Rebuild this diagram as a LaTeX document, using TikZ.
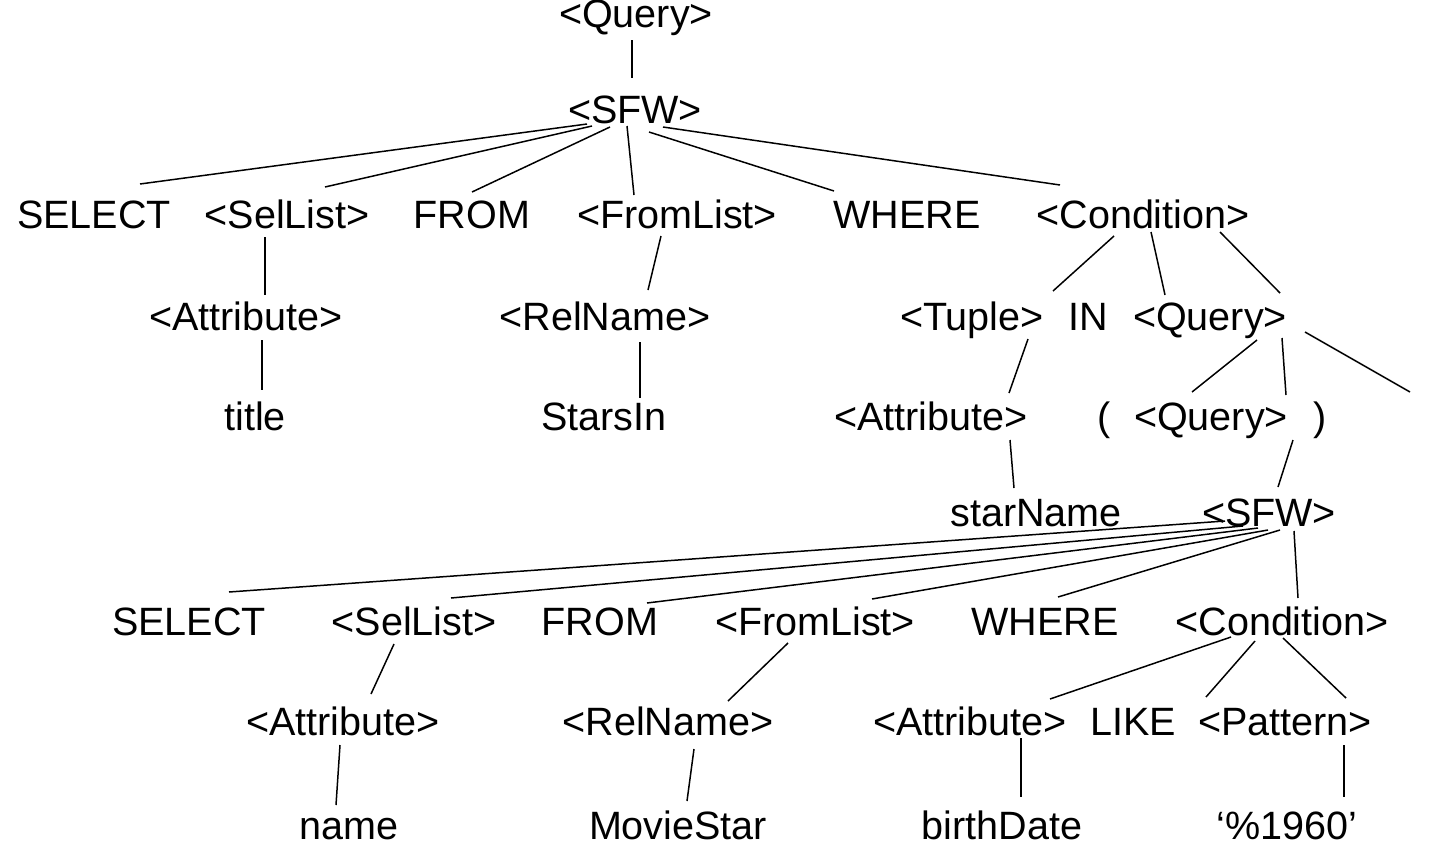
\documentclass[tikz,border=0pt]{standalone}
\usepackage{fontspec}
\setmainfont{Liberation Sans}
\usetikzlibrary{calc}

\begin{document}
\begin{tikzpicture}
  [x=0.02cm, y=-0.02cm,
   lbl/.style={anchor=base, inner sep=0pt, font=\fontsize{22.5}{27}\selectfont},
   edge/.style={line width=0.85pt}]
  \useasboundingbox (0,0) rectangle (1436,856);

  \node[lbl] (q0)     at (636,27)   {<Query>};
  \node[lbl] (sfw)    at (635,123)  {<SFW>};

  \node[lbl] (sel)    at (94,228)   {SELECT};
  \node[lbl] (sell)   at (287,228)  {<SelList>};
  \node[lbl] (from)   at (472,228)  {FROM};
  \node[lbl] (froml)  at (677,228)  {<FromList>};
  \node[lbl] (where)  at (907,228)  {WHERE};
  \node[lbl] (cond)   at (1143,228) {<Condition>};

  \node[lbl] (attr)   at (246,330)  {<Attribute>};
  \node[lbl] (reln)   at (605,330)  {<RelName>};
  \node[lbl] (tuple)  at (972,330)  {<Tuple>};
  \node[lbl] (in)     at (1088,330) {IN};
  \node[lbl] (qry)    at (1210,330) {<Query>};

  \node[lbl] (title)  at (255,430)  {title};
  \node[lbl] (stars)  at (604,430)  {StarsIn};
  \node[lbl] (attrb)  at (931,430)  {<Attribute>};
  \node[lbl] (lpar)   at (1104,430) {(};
  \node[lbl] (qryb)   at (1211,430) {<Query>};
  \node[lbl] (rpar)   at (1320,430) {)};

  \node[lbl] (starn)  at (1036,526) {starName};
  \node[lbl] (sfwb)   at (1269,526) {<SFW>};

  \node[lbl] (selb)   at (189,635)  {SELECT};
  \node[lbl] (sellb)  at (414,635)  {<SelList>};
  \node[lbl] (fromb)  at (600,635)  {FROM};
  \node[lbl] (fromlb) at (815,635)  {<FromList>};
  \node[lbl] (whereb) at (1045,635) {WHERE};
  \node[lbl] (condb)  at (1282,635) {<Condition>};

  \node[lbl] (attrc)  at (343,735)  {<Attribute>};
  \node[lbl] (relnb)  at (668,735)  {<RelName>};
  \node[lbl] (attrd)  at (970,735)  {<Attribute>};
  \node[lbl] (like)   at (1133,735) {LIKE};
  \node[lbl] (pat)    at (1285,735) {<Pattern>};

  \node[lbl] (name)   at (349,839)  {name};
  \node[lbl] (movie)  at (678,839)  {MovieStar};
  \node[lbl] (birth)  at (1002,839) {birthDate};
  \node[lbl] (pct)    at (1287,839) {‘\%1960’};

  \draw[edge] ($(q0.base)+(-4,13)$)     -- ($(sfw.base)+(-3,-45)$);
  \draw[edge] ($(sfw.base)+(-48,1)$)    -- ($(sel.base)+(46,-44)$);
  \draw[edge] ($(sfw.base)+(-43,3)$)    -- ($(sell.base)+(38,-41)$);
  \draw[edge] ($(sfw.base)+(-25,4)$)    -- ($(from.base)+(0,-36)$);
  \draw[edge] ($(sfw.base)+(-8,3)$)     -- ($(froml.base)+(-43,-33)$);
  \draw[edge] ($(sfw.base)+(14,9)$)     -- ($(where.base)+(-73,-37)$);
  \draw[edge] ($(sfw.base)+(28,4)$)     -- ($(cond.base)+(-83,-43)$);

  \draw[edge] ($(sell.base)+(-22,9)$)   -- ($(attr.base)+(19,-35)$);
  \draw[edge] ($(froml.base)+(-16,8)$)  -- ($(reln.base)+(43,-40)$);
  \draw[edge] ($(attr.base)+(16,10)$)   -- ($(title.base)+(7,-40)$);
  \draw[edge] ($(reln.base)+(35,12)$)   -- ($(stars.base)+(36,-32)$);

  \draw[edge] ($(cond.base)+(-29,8)$)   -- ($(tuple.base)+(81,-39)$);
  \draw[edge] ($(cond.base)+(8,4)$)     -- ($(in.base)+(77,-35)$);
  \draw[edge] ($(cond.base)+(77,4)$)    -- ($(qry.base)+(70,-37)$);
  \draw[edge] ($(tuple.base)+(56,9)$)   -- ($(attrb.base)+(78,-37)$);
  \draw[edge] ($(attrb.base)+(79,10)$)  -- ($(starn.base)+(-22,-38)$);
  \draw[edge] ($(qry.base)+(47,10)$)    -- ($(lpar.base)+(88,-38)$);
  \draw[edge] ($(qry.base)+(72,8)$)     -- ($(qryb.base)+(75,-35)$);
  \draw[edge] ($(qry.base)+(95,2)$)     -- ($(rpar.base)+(90,-38)$);
  \draw[edge] ($(qryb.base)+(82,10)$)   -- ($(sfwb.base)+(9,-39)$);

  \draw[edge] ($(sfwb.base)+(-44,-5)$)  -- ($(selb.base)+(40,-43)$);
  \draw[edge] ($(sfwb.base)+(-26,0)$)   -- ($(sellb.base)+(37,-37)$);
  \draw[edge] ($(sfwb.base)+(-11,2)$)   -- ($(fromb.base)+(47,-32)$);
  \draw[edge] ($(sfwb.base)+(-1,4)$)    -- ($(fromlb.base)+(57,-36)$);
  \draw[edge] ($(sfwb.base)+(11,4)$)    -- ($(whereb.base)+(13,-38)$);
  \draw[edge] ($(sfwb.base)+(25,5)$)    -- ($(condb.base)+(16,-37)$);

  \draw[edge] ($(sellb.base)+(-20,9)$)  -- ($(attrc.base)+(28,-41)$);
  \draw[edge] ($(fromlb.base)+(-27,8)$) -- ($(relnb.base)+(60,-34)$);
  \draw[edge] ($(condb.base)+(-51,2)$)  -- ($(attrd.base)+(80,-36)$);
  \draw[edge] ($(condb.base)+(-27,6)$)  -- ($(like.base)+(73,-38)$);
  \draw[edge] ($(condb.base)+(1,3)$)    -- ($(pat.base)+(61,-37)$);
  \draw[edge] ($(attrc.base)+(-3,10)$)  -- ($(name.base)+(-13,-34)$);
  \draw[edge] ($(relnb.base)+(26,14)$)  -- ($(movie.base)+(9,-38)$);
  \draw[edge] ($(attrd.base)+(51,3)$)   -- ($(birth.base)+(19,-42)$);
  \draw[edge] ($(pat.base)+(59,10)$)    -- ($(pct.base)+(57,-42)$);
\end{tikzpicture}
\end{document}
